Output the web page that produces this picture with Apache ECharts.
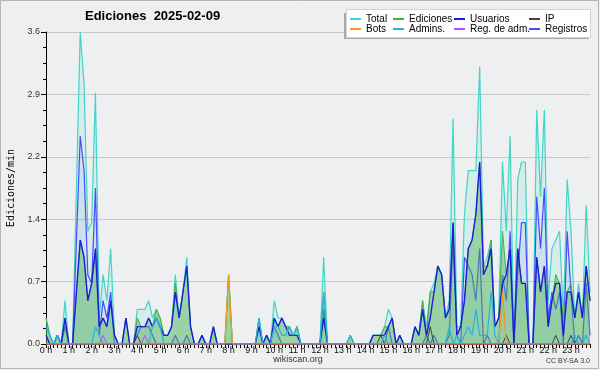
<!DOCTYPE html>
<html><head><meta charset="utf-8">
<script src="https://cdn.jsdelivr.net/npm/echarts@6/dist/echarts.min.js"></script>
<style>html,body{margin:0;padding:0;background:#efefef}#c{width:600px;height:370px}</style>
</head><body><div id="c"></div>
<script>
const hourLabels = ['0 h','1 h','2 h','3 h','4 h','5 h','6 h','7 h','8 h','9 h','10 h','11 h',
  '12 h','13 h','14 h','15 h','16 h','17 h','18 h','19 h','20 h','21 h','22 h','23 h'];
const yTickLabels = ['0.0','0.7','1.4','2.2','2.9','3.6'];

const total = [
0.3,0.1,0,0.1,0,0.5,0,0,1.8,3.6,
3.0,1.3,1.4,2.9,0.3,0.8,0.5,1.1,0.1,0,
0,0.3,0,0,0.4,0.4,0.4,0.5,0.3,0.4,
0.3,0.1,0.1,0.2,0.8,0.3,0.6,1.0,0.2,0,
0,0.1,0,0,0.2,0,0,0,0.8,0,
0,0,0,0,0,0,0.3,0,0.1,0,
0.5,0.3,0.3,0.2,0.2,0.1,0.2,0,0,0,
0,0,0,1.0,0,0,0,0,0,0,
0.1,0,0,0,0,0,0.1,0.1,0.1,0.2,
0.4,0.3,0,0.1,0,0,0,0.2,0.1,0.5,
0.2,0.6,0.7,0.9,0.8,0.3,0.5,2.6,0.2,0.2,
1.5,2.0,2.0,2.0,3.2,0.9,1.0,1.2,0.2,0.3,
2.1,1.3,2.4,0,1.9,2.1,2.1,0,0,2.7,
1.7,2.7,0.5,1.1,1.2,1.3,0.3,1.9,1.3,0.3,
0.7,0.3,1.6,0.6];
const ediciones = [
0.3,0.1,0,0.1,0,0.3,0,0,0.6,1.2,
1.0,0.5,0.7,1.1,0.2,0.3,0.2,0.5,0.1,0,
0,0.3,0,0,0.3,0.2,0.2,0.3,0.2,0.4,
0.3,0.1,0.1,0.2,0.7,0.3,0.6,0.9,0.2,0,
0,0.1,0,0,0.2,0,0,0,0.8,0,
0,0,0,0,0,0,0.3,0,0.1,0,
0.3,0.2,0.3,0.2,0.2,0.1,0.2,0,0,0,
0,0,0,0.6,0,0,0,0,0,0,
0.1,0,0,0,0,0,0.1,0.1,0.1,0.2,
0.2,0.3,0,0.1,0,0,0,0.2,0.1,0.5,
0.1,0.6,0.6,0.9,0.8,0.3,0.4,1.4,0.1,0.2,
0.5,1.1,1.2,1.5,2.1,0.9,0.9,1.2,0.2,0.3,
1.3,0.8,1.1,0,1.1,0.7,0.7,0,0,1.0,
0.6,0.9,0.2,0.5,0.8,0.7,0.3,0.6,0.7,0.3,
0.6,0.3,0.9,0.5];
const usuarios = [
0.1,0,0,0.1,0,0.3,0,0,0.6,1.2,
1.0,0.5,0.7,1.1,0.2,0.3,0.2,0.5,0.1,0,
0,0.3,0,0,0.2,0.2,0.2,0.3,0.2,0.3,
0.2,0.1,0.1,0.2,0.6,0.3,0.6,0.9,0.2,0,
0,0.1,0,0,0.2,0,0,0,0,0,
0,0,0,0,0,0,0.2,0,0.1,0,
0.3,0.2,0.3,0.2,0.1,0.1,0.1,0,0,0,
0,0,0,0.3,0,0,0,0,0,0,
0,0,0,0,0,0,0.1,0.1,0.1,0.1,
0.2,0.3,0,0.1,0,0,0,0.2,0.1,0.4,
0.1,0.3,0.6,0.9,0.8,0.3,0.4,1.4,0.1,0.2,
0.5,1.1,1.2,1.5,2.1,0.8,0.9,1.1,0.2,0.3,
0.7,0.8,1.1,0,1.1,0.7,0.7,0,0,1.0,
0.6,0.9,0.2,0.5,0.7,0.7,0.1,0.6,0.6,0.3,
0.6,0.3,0.9,0.5];
const registros = [
0,0,0,0,0,0.2,0,0,1.2,2.4,
2.0,0.8,0.7,1.8,0.1,0.5,0.3,0.6,0,0,
0,0,0,0,0.1,0.2,0.2,0.2,0.1,0,
0,0,0,0,0.1,0,0,0.1,0,0,
0,0,0,0,0,0,0,0,0,0,
0,0,0,0,0,0,0,0,0,0,
0.2,0.1,0,0,0,0,0,0,0,0,
0,0,0,0.4,0,0,0,0,0,0,
0,0,0,0,0,0,0,0,0,0,
0.2,0,0,0,0,0,0,0,0,0,
0.1,0,0.1,0,0,0,0.1,1.2,0.1,0,
1.0,0.9,0.8,0.5,1.1,0,0.1,0,0,0,
0.8,0.5,1.3,0,0.8,1.4,1.4,0,0,1.7,
1.1,1.8,0.3,0.6,0.4,0.6,0,1.3,0.6,0,
0.1,0,0.7,0.1];
const admins = [
0.2,0.1,0,0.1,0,0,0,0,0,0,
0,0,0,0.2,0.1,0,0,0,0,0,
0,0,0,0,0,0,0,0,0.2,0.3,
0.2,0,0,0,0,0,0,0,0,0,
0,0,0,0,0,0,0,0,0,0,
0,0,0,0,0,0,0.3,0,0,0,
0.2,0.2,0.1,0.1,0.2,0.1,0.2,0,0,0,
0,0,0,0.6,0,0,0,0,0,0,
0.1,0,0,0,0,0,0,0,0,0.1,
0,0,0,0,0,0,0,0,0,0,
0,0,0,0,0,0,0.2,0,0.1,0,
0.1,0.2,0.1,0.4,0.1,0.1,0.1,0.6,0.1,0,
0,0,0,0,0,0,0,0,0,0,
0,0,0,0,0,0,0,0,0,0.1,
0,0,0.1,0];
const ip = [
0,0,0,0,0,0,0,0,0,0,
0,0,0,0,0,0,0,0,0,0,
0,0,0,0,0.1,0,0,0,0,0,
0,0,0,0,0,0,0,0,0,0,
0,0,0,0,0,0,0,0,0,0,
0,0,0,0,0,0,0,0,0,0,
0,0,0,0,0,0,0,0,0,0,
0,0,0,0,0,0,0,0,0,0,
0,0,0,0,0,0,0,0,0.1,0,
0,0,0,0,0,0,0,0,0,0,
0,0.2,0,0,0,0,0,0,0,0,
0,0,0,0,0,0,0,0,0,0,
0,0.1,0,0,0,0,0,0,0,0,
0,0,0,0,0.1,0,0,0,0.1,0,
0,0,0,0];
const bots = [
0,0,0,0,0,0,0,0,0,0,
0,0,0,0,0,0,0,0,0,0,
0,0,0,0,0,0,0,0,0,0,
0,0,0,0,0,0,0,0,0,0,
0,0,0,0,0,0,0,0,0.8,0,
0,0,0,0,0,0,0,0,0,0,
0,0,0,0,0,0,0,0,0,0,
0,0,0,0,0,0,0,0,0,0,
0,0,0,0,0,0,0,0,0,0,
0,0,0,0,0,0,0,0,0,0,
0,0,0,0,0,0,0,0,0,0,
0,0,0,0,0,0,0,0,0,0,
0.6,0,0,0,0,0,0,0,0,0,
0,0,0,0,0,0,0,0,0,0,
0,0,0,0];
const regAdm = [
0,0,0,0,0,0,0,0,0,0,
0,0,0,0,0,0.1,0,0,0,0,
0,0,0,0,0,0,0.1,0,0,0,
0,0,0,0,0,0,0,0,0,0,
0,0,0,0,0,0,0,0,0,0,
0,0,0,0,0,0,0,0,0,0,
0,0,0,0,0,0,0,0,0,0,
0,0,0,0,0,0,0,0,0,0,
0,0,0,0,0,0,0,0,0,0,
0,0,0,0,0,0,0,0,0,0,
0,0,0,0,0,0,0,0,0,0,
0,0,0,0,0,0,0,0,0,0,
0,0,0,0,0,0,0,0,0,0,
0,0,0,0,0,0,0,0,0,0,
0,0,0,0];

const categories = [];
hourLabels.forEach(h => {
  for (let m = 0; m < 60; m += 10) categories.push(m === 0 ? h : h.replace(' h', '') + ':' + m);
});

const F = 'Liberation Sans, Arial, sans-serif';
const chart = echarts.init(document.getElementById('c'), null, {renderer: 'canvas'});

function ln(name, data, color, width, area, z) {
  const s = {name, type: 'line', data, color, symbol: 'none', z: z || 2,
    lineStyle: {color, width}, itemStyle: {color}, emphasis: {disabled: true}};
  if (area) s.areaStyle = {color: area, opacity: 1};
  return s;
}

const legendBase = {orient: 'vertical', itemWidth: 11, itemHeight: 2, itemGap: 0, padding: 0,
  icon: 'rect', z: 30, selectedMode: false,
  textStyle: {fontSize: 10, lineHeight: 10, color: '#000', fontFamily: F}};

chart.setOption({
  animation: false,
  backgroundColor: '#efefef',
  title: {text: 'Ediciones  2025-02-09', left: 85, top: 10, padding: 0,
    textStyle: {fontSize: 13, fontWeight: 'bold', color: '#000', fontFamily: F}},
  grid: {left: 46, right: 10, top: 32, bottom: 26, show: true, backgroundColor: '#edeff1', borderWidth: 0},
  legend: [
    Object.assign({}, legendBase, {data: ['Total', 'Bots'], left: 350, top: 14}),
    Object.assign({}, legendBase, {data: ['Ediciones', 'Admins.'], left: 393, top: 14}),
    Object.assign({}, legendBase, {data: ['Usuarios', 'Reg. de adm.'], left: 454, top: 14}),
    Object.assign({}, legendBase, {data: ['IP', 'Registros'], left: 529, top: 14})
  ],
  xAxis: {type: 'category', data: categories, boundaryGap: false,
    axisLine: {lineStyle: {color: '#000', width: 1}},
    axisTick: {show: true, interval: 0, length: 4, lineStyle: {color: '#000'}},
    axisLabel: {interval: 5, margin: 2, fontSize: 9, color: '#111', fontFamily: F,
      formatter: (v) => v.indexOf(' h') > 0 ? v : ''},
    splitLine: {show: false}},
  yAxis: {type: 'value', min: 0, max: 3.6, interval: 0.72,
    axisLine: {show: true, lineStyle: {color: '#000', width: 1}},
    axisTick: {show: true, length: 5, lineStyle: {color: '#000'}},
    minorTick: {show: true, splitNumber: 4, length: 3, lineStyle: {color: '#000'}},
    axisLabel: {fontSize: 9, color: '#333', margin: 6, fontFamily: F,
      formatter: (v) => yTickLabels[Math.round(v / 0.72)]},
    splitLine: {show: true, lineStyle: {color: '#c8c8c8', width: 1}}},
  graphic: [
    {type: 'rect', shape: {x: 0.5, y: 0.5, width: 598, height: 368}, silent: true, z: 0,
      style: {fill: 'none', stroke: '#b4b4b4', lineWidth: 1}},
    {type: 'text', x: 11, y: 188, rotation: Math.PI / 2, silent: true,
      style: {text: 'Ediciones/min', fontSize: 10, fontFamily: 'DejaVu Sans Mono', fill: '#000',
        align: 'center', verticalAlign: 'middle'}},
    {type: 'text', x: 298, y: 360, silent: true,
      style: {text: 'wikiscan.org', fontSize: 9, fontFamily: F, fill: '#333', align: 'center', verticalAlign: 'middle'}},
    {type: 'text', x: 590, y: 361, silent: true,
      style: {text: 'CC BY-SA 3.0', fontSize: 7, fontFamily: F, fill: '#333', align: 'right', verticalAlign: 'middle'}},
    {type: 'rect', shape: {x: 344, y: 13, width: 245, height: 26}, silent: true, z: 25,
      style: {fill: '#a8a8a8'}},
    {type: 'rect', shape: {x: 346.5, y: 9.5, width: 244, height: 28}, silent: true, z: 26,
      style: {fill: '#ffffff', stroke: '#d4d4d4', lineWidth: 1}}
  ],
  series: [
    ln('Total', total, '#3fd6c6', 1.2, 'rgba(64,214,198,0.13)', 2),
    ln('Registros', registros, '#4a4aff', 1.2, 'rgba(80,110,255,0.08)', 3),
    ln('Ediciones', ediciones, '#40b040', 1, 'rgba(80,180,80,0.45)', 4),
    ln('Usuarios', usuarios, '#1c1cdc', 1.4, null, 5),
    ln('IP', ip, '#404040', 1, null, 5),
    ln('Bots', bots, '#f39a1e', 1.3, null, 6),
    ln('Admins.', admins, '#22b6e0', 1.2, null, 6),
    ln('Reg. de adm.', regAdm, '#c24cf0', 1, null, 6)
  ]
});
</script></body></html>
